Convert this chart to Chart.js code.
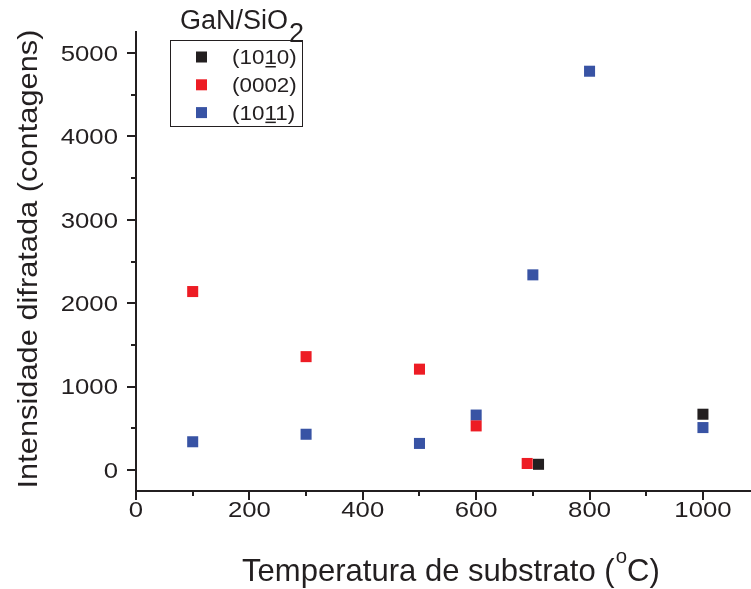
<!DOCTYPE html>
<html>
<head>
<meta charset="utf-8">
<title>GaN/SiO2</title>
<script src="https://cdn.jsdelivr.net/npm/chart.js@4.4.1/dist/chart.umd.min.js"></script>
<style>
    html, body { margin: 0; padding: 0; background: #fff; }
    canvas { display: block; }
</style>
</head>
<body>
<canvas id="chart" width="751" height="589"></canvas>
<script>
// substrate temperature (ºC) vs diffracted intensity (counts), per reflection
var temps1010 = [710, 1000],
    counts1010 = [70, 670];
var temps0002 = [100, 300, 500, 600, 690],
    counts0002 = [2140, 1360, 1210, 530, 80];
var temps1011 = [100, 300, 500, 600, 700, 800, 1000],
    counts1011 = [340, 430, 320, 660, 2340, 4780, 510];

var seriesNames = ['(1010)', '(0002)', '(1011)'],
    seriesBars = [3, -1, 3],          // index of the digit with the bar (drawn underlined)
    seriesColors = ['#231f20', '#ed1c24', '#3853a4'];

var xMajor = [0, 200, 400, 600, 800, 1000],
    xMinor = [100, 300, 500, 700, 900],
    yMajor = [0, 1000, 2000, 3000, 4000, 5000],
    yMinor = [500, 1500, 2500, 3500, 4500];

var legendTitle = 'GaN/SiO',
    legendTitleSub = '2',
    xTitle = 'Temperatura de substrato (',
    xTitleSup = 'o',
    xTitleEnd = 'C)',
    yTitle = 'Intensidade difratada (contagens)';

var ink = '#231f20',
    face = '"Liberation Sans", Arial, sans-serif';

var pairs = function(xs, ys) {
    return xs.map(function(x, i) {
        return { x: x, y: ys[i] };
    });
};

// text with a horizontal stretch factor
var text = function(ctx, str, x, y, size, align, sx) {
    ctx.save();
    ctx.translate(x, y);
    ctx.scale(sx || 1, 1);
    ctx.font = size + 'px ' + face;
    ctx.textAlign = align || 'left';
    ctx.textBaseline = 'alphabetic';
    ctx.fillStyle = ink;
    ctx.fillText(str, 0, 0);
    ctx.restore();
};

var axesPlugin = {
    id: 'axesDecor',
    afterDraw: function(chart) {
        var ctx = chart.ctx,
            xs = chart.scales.x,
            ys = chart.scales.y,
            area = chart.chartArea;

        ctx.save();
        ctx.strokeStyle = ink;
        ctx.lineWidth = 2;
        ctx.beginPath();
        xMajor.forEach(function(v) {
            var p = Math.round(xs.getPixelForValue(v));
            ctx.moveTo(p, area.bottom); ctx.lineTo(p, area.bottom + 9);
        });
        xMinor.forEach(function(v) {
            var p = Math.round(xs.getPixelForValue(v));
            ctx.moveTo(p, area.bottom); ctx.lineTo(p, area.bottom + 5);
        });
        yMajor.forEach(function(v) {
            var p = Math.round(ys.getPixelForValue(v));
            ctx.moveTo(area.left, p); ctx.lineTo(area.left - 9, p);
        });
        yMinor.forEach(function(v) {
            var p = Math.round(ys.getPixelForValue(v));
            ctx.moveTo(area.left, p); ctx.lineTo(area.left - 5, p);
        });
        ctx.stroke();
        ctx.restore();

        xMajor.forEach(function(v) {
            text(ctx, String(v), xs.getPixelForValue(v), 517, 22, 'center', 1.17);
        });
        yMajor.forEach(function(v) {
            text(ctx, String(v), 118, ys.getPixelForValue(v) + 7.8, 22, 'right', 1.17);
        });

        // x title with superscript o
        ctx.save();
        ctx.font = '32px ' + face;
        var w1 = ctx.measureText(xTitle).width * 0.97;
        ctx.font = '21px ' + face;
        var w2 = ctx.measureText(xTitleSup).width * 0.97;
        ctx.restore();
        var x0 = 242;
        text(ctx, xTitle, x0, 581, 32, 'left', 0.97);
        text(ctx, xTitleSup, x0 + w1 + 1, 563, 21, 'left', 0.97);
        text(ctx, xTitleEnd, x0 + w1 + w2 + 1, 581, 32, 'left', 0.97);

        // y title
        ctx.save();
        ctx.translate(37, 259);
        ctx.rotate(-Math.PI / 2);
        text(ctx, yTitle, 0, 0, 28, 'center', 1.1);
        ctx.restore();

        // legend
        text(ctx, legendTitle, 180, 29, 27, 'left', 1);
        ctx.save();
        ctx.font = '27px ' + face;
        var tw = ctx.measureText(legendTitle).width;
        ctx.restore();
        text(ctx, legendTitleSub, 180 + tw + 1, 42, 27, 'left', 1);

        ctx.save();
        ctx.strokeStyle = ink;
        ctx.lineWidth = 1;
        ctx.strokeRect(170.5, 40.5, 132, 86);
        ctx.restore();

        seriesNames.forEach(function(name, i) {
            var cy = 57 + i * 27.8;
            ctx.fillStyle = seriesColors[i];
            ctx.fillRect(196, cy - 5.5, 11, 11);
            var sx = 1.12, tx = 232, base = cy + 7;
            text(ctx, name, tx, base, 20, 'left', sx);
            if (seriesBars[i] >= 0) {
                ctx.save();
                ctx.font = '20px ' + face;
                var a = ctx.measureText(name.slice(0, seriesBars[i])).width * sx,
                    b = ctx.measureText(name.charAt(seriesBars[i])).width * sx;
                ctx.restore();
                ctx.fillStyle = ink;
                ctx.fillRect(tx + a + 1, base + 2, b - 2, 1.5);
            }
        });
    }
};

var axis = function(min, max) {
    return {
        type: 'linear',
        min: min,
        max: max,
        grid: { display: true, drawOnChartArea: false, drawTicks: false },
        border: { display: true, color: ink, width: 2 },
        ticks: { display: false }
    };
};

var xAxis = axis(0, 1083);
xAxis.afterFit = function(scale) { scale.height = 98; };
var yAxis = axis(-250, 5250);
yAxis.afterFit = function(scale) { scale.width = 136; };

var dataset = function(label, xs, ys, color) {
    return {
        label: label,
        data: pairs(xs, ys),
        pointStyle: 'rect',
        pointRadius: 7.8,
        pointHoverRadius: 7.8,
        pointBorderWidth: 0,
        backgroundColor: color,
        borderColor: color,
        clip: false
    };
};

new Chart(document.getElementById('chart'), {
    type: 'scatter',
    data: {
        datasets: [
            dataset(seriesNames[0], temps1010, counts1010, seriesColors[0]),
            dataset(seriesNames[1], temps0002, counts0002, seriesColors[1]),
            dataset(seriesNames[2], temps1011, counts1011, seriesColors[2])
        ]
    },
    options: {
        responsive: false,
        animation: false,
        devicePixelRatio: 1,
        layout: { autoPadding: false, padding: { left: 0, top: 32, right: 1, bottom: 0 } },
        plugins: {
            legend: { display: false },
            tooltip: { enabled: false }
        },
        scales: { x: xAxis, y: yAxis }
    },
    plugins: [axesPlugin]
});
</script>
</body>
</html>
